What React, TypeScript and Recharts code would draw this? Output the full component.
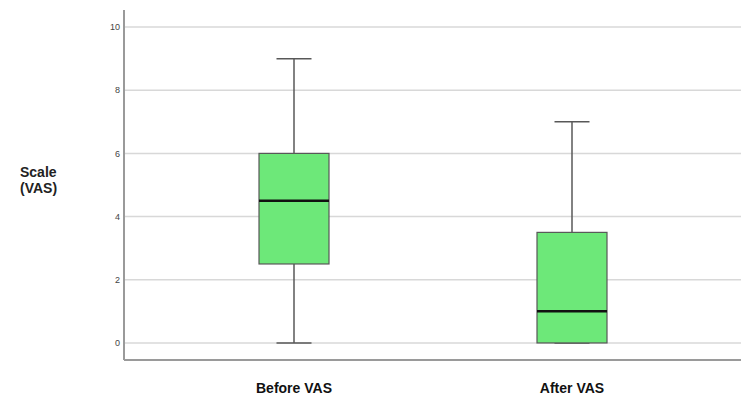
import { Bar, CartesianGrid, ComposedChart, Label, XAxis, YAxis } from "recharts"

// Box plot values
const groups = ["Before VAS", "After VAS"]
const mins = [0, 0]
const q1s = [2.5, 0]
const medians = [4.5, 1]
const q3s = [6, 3.5]
const maxs = [9, 7]
const yTicks = [0, 2, 4, 6, 8, 10]

const data = groups.map((g, i) => ({
  group: g,
  range: [mins[i], maxs[i]],
  min: mins[i],
  q1: q1s[i],
  median: medians[i],
  q3: q3s[i],
  max: maxs[i],
}))

const BOX_FILL = "#6de879"
const LINE = "#585858"

// draws whiskers + box + median using the pixel span recharts gives the min..max range bar
const BoxShape = (props: any) => {
  const { x, y, width, height, payload } = props
  const { min, q1, median, q3, max } = payload
  const perUnit = max - min === 0 ? 0 : height / (max - min)
  const py = (v: number) => y + (max - v) * perUnit
  const cx = x + width / 2
  const capHalf = width / 4
  return (
    <g>
      <line x1={cx} x2={cx} y1={py(max)} y2={py(q3)} stroke={LINE} strokeWidth={1.5} />
      <line x1={cx} x2={cx} y1={py(q1)} y2={py(min)} stroke={LINE} strokeWidth={1.5} />
      <line x1={cx - capHalf} x2={cx + capHalf} y1={py(max)} y2={py(max)} stroke={LINE} strokeWidth={1.5} />
      <line x1={cx - capHalf} x2={cx + capHalf} y1={py(min)} y2={py(min)} stroke={LINE} strokeWidth={1.5} />
      <rect
        x={x}
        y={py(q3)}
        width={width}
        height={py(q1) - py(q3)}
        fill={BOX_FILL}
        stroke={LINE}
        strokeWidth={1.2}
      />
      <line x1={x} x2={x + width} y1={py(median)} y2={py(median)} stroke="#111" strokeWidth={2.5} />
    </g>
  )
}

const yLabel = () => (
  <text fontSize={14} fontWeight={700} fill="#222" fontFamily="'Liberation Sans', Arial, sans-serif">
    <tspan x={20} y={177}>Scale</tspan>
    <tspan x={20} y={193}>(VAS)</tspan>
  </text>
)

export default function App() {
  return (
    <div style={{ position: "absolute", left: 0, top: 0, width: 750, height: 410, background: "#fff" }}>
      <ComposedChart
        width={750}
        height={410}
        data={data}
        margin={{ top: 10, right: 9, left: 0, bottom: 0 }}
        style={{ fontFamily: "'Liberation Sans', Arial, sans-serif" }}
      >
        <CartesianGrid vertical={false} horizontalValues={yTicks} stroke="#d8d8d8" strokeWidth={1.5} />
        <XAxis
          dataKey="group"
          height={50}
          padding={{ left: 31, right: 30 }}
          tickLine={false}
          tickSize={6}
          tickMargin={17}
          axisLine={{ stroke: "#9a9a9a", strokeWidth: 2 }}
          tick={{ fontSize: 14, fontWeight: 700, fill: "#111" }}
        />
        <YAxis
          width={124}
          domain={[-0.54, 10.54]}
          ticks={yTicks}
          allowDataOverflow
          tickLine={false}
          tickSize={2}
          tickMargin={2}
          axisLine={{ stroke: "#9a9a9a", strokeWidth: 2 }}
          tick={{ fontSize: 9, fill: "#444" }}
        >
          <Label content={yLabel} />
        </YAxis>
        <Bar dataKey="range" barSize={70} shape={BoxShape} isAnimationActive={false} />
      </ComposedChart>
    </div>
  )
}
